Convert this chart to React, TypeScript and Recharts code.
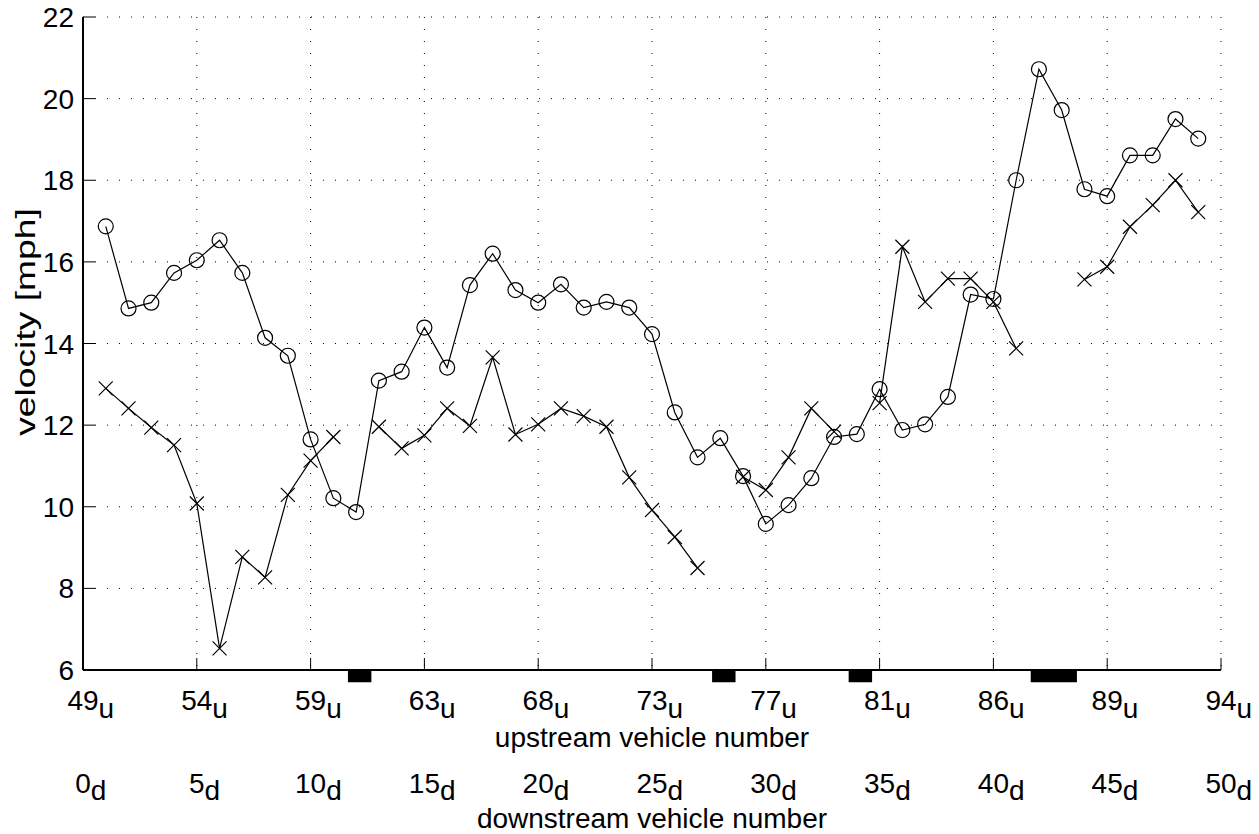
import { CartesianGrid, Line, LineChart, ReferenceArea, XAxis, YAxis } from 'recharts'

// downstream vehicle index (x axis)
const vehicle = [
  1, 2, 3, 4, 5, 6, 7, 8, 9, 10, 11, 12, 13, 14, 15, 16, 17, 18, 19, 20, 21, 22, 23, 24, 25,
  26, 27, 28, 29, 30, 31, 32, 33, 34, 35, 36, 37, 38, 39, 40, 41, 42, 43, 44, 45, 46, 47, 48, 49,
]
// circle markers
const circleSpeed = [
  16.87, 14.86, 15.0, 15.73, 16.04, 16.53, 15.73, 14.14, 13.7, 11.65, 10.21, 9.87, 13.09, 13.31,
  14.39, 13.41, 15.43, 16.2, 15.31, 15.0, 15.45, 14.88, 15.02, 14.88, 14.23, 12.31, 11.21, 11.68,
  10.75, 9.58, 10.04, 10.7, 11.71, 11.78, 12.88, 11.88, 12.02, 12.69, 15.2, 15.09, 18.0, 20.72,
  19.72, 17.78, 17.61, 18.61, 18.61, 19.5, 19.02,
]
// cross markers (null = no vehicle)
const crossSpeed = [
  12.9, 12.41, 11.94, 11.51, 10.08, 6.53, 8.77, 8.27, 10.29, 11.13, 11.71, null, 11.96, 11.43,
  11.75, 12.41, 11.98, 13.66, 11.77, 12.02, 12.41, 12.22, 11.96, 10.72, 9.92, 9.26, 8.5, null,
  10.73, 10.41, 11.21, 12.41, 11.84, null, 12.54, 16.37, 15.02, 15.59, 15.59, 15.02, 13.88, null,
  null, 15.57, 15.88, 16.86, 17.39, 18.0, 17.22,
]
const missingVehicles = [12, 28, 34, 42, 43]

const downTicks = [0, 5, 10, 15, 20, 25, 30, 35, 40, 45, 50]
const upTicks = [49, 54, 59, 63, 68, 73, 77, 81, 86, 89, 94]
const yTicks = [6, 8, 10, 12, 14, 16, 18, 20, 22]

const data = vehicle.map((n, i) => ({ n, circle: circleSpeed[i], cross: crossSpeed[i] }))

const FONT = '"Liberation Sans", Arial, Helvetica, sans-serif'
const FS = 28
const TICK = 12
const W = 1259
const H = 834
const M = { top: 17, right: 38, left: 23, bottom: 134 }
const plotLeft = 83
const plotRight = W - M.right

const textStyle = { fontFamily: FONT, fontSize: FS, fill: '#000' }

function CircleDot(p: any) {
  if (p.cx == null || p.cy == null || p.value == null) return <g key={p.key} />
  return <circle key={p.key} cx={p.cx} cy={p.cy} r={7.5} fill="none" stroke="#000" strokeWidth={1.2} />
}

function CrossDot(p: any) {
  if (p.cx == null || p.cy == null || p.value == null) return <g key={p.key} />
  const s = 7
  const { cx, cy } = p
  return (
    <path
      key={p.key}
      d={`M${cx - s},${cy - s}L${cx + s},${cy + s}M${cx - s},${cy + s}L${cx + s},${cy - s}`}
      stroke="#000"
      strokeWidth={1.2}
      fill="none"
    />
  )
}

function BottomTick(props: any) {
  const { x, y, payload } = props
  const i = downTicks.indexOf(payload.value)
  const up = String(upTicks[i])
  const down = String(payload.value)
  return (
    <g>
      <line x1={x} y1={y} x2={x} y2={y - TICK} stroke="#000" strokeWidth={1} />
      <text x={x} y={y + 40} textAnchor="middle" style={textStyle}>
        {up}
      </text>
      <text x={x + up.length * FS * 0.278} y={y + 48} style={textStyle}>
        u
      </text>
      <text x={x} y={y + 123} textAnchor="middle" style={textStyle}>
        {down}
      </text>
      <text x={x + down.length * FS * 0.278} y={y + 130} style={textStyle}>
        d
      </text>
    </g>
  )
}

function TopTick(props: any) {
  const { x, y } = props
  return <line x1={x} y1={y} x2={x} y2={y + TICK} stroke="#000" strokeWidth={1} />
}

function LeftTick(props: any) {
  const { x, y, payload } = props
  return (
    <g>
      <line x1={x} y1={y} x2={x + TICK} y2={y} stroke="#000" strokeWidth={1} />
      <text x={x - 9} y={y} dy="0.36em" textAnchor="end" style={textStyle}>
        {payload.value}
      </text>
    </g>
  )
}

function RightTick(props: any) {
  const { x, y } = props
  return <line x1={x} y1={y} x2={x - TICK} y2={y} stroke="#000" strokeWidth={1} />
}

function XTitles() {
  const cx = (plotLeft + plotRight) / 2
  return (
    <g>
      <text x={cx} y={747} textAnchor="middle" style={textStyle}>
        upstream vehicle number
      </text>
      <text x={cx} y={828} textAnchor="middle" style={textStyle}>
        downstream vehicle number
      </text>
    </g>
  )
}

// the reference's y title is drawn stretched along its baseline
function YTitle() {
  const cy = 322
  return (
    <text
      x={0}
      y={0}
      textAnchor="middle"
      transform={`translate(35 ${cy}) rotate(-90) scale(1.33 1)`}
      style={textStyle}
    >
      velocity [mph]
    </text>
  )
}

export default function App() {
  return (
    <div style={{ position: 'absolute', left: 0, top: 0, width: W, height: H, background: '#fff' }}>
      <LineChart width={W} height={H} data={data} margin={M}>
        <CartesianGrid stroke="#000" strokeWidth={1} strokeDasharray="1 11" />
        <XAxis
          dataKey="n"
          type="number"
          domain={[0, 50]}
          ticks={downTicks}
          interval={0}
          height={30}
          tickSize={0}
          tickMargin={0}
          tickLine={false}
          axisLine={{ stroke: '#000', strokeWidth: 2 }}
          tick={BottomTick}
          label={() => <XTitles />}
        />
        <XAxis
          xAxisId="top"
          orientation="top"
          dataKey="n"
          type="number"
          domain={[0, 50]}
          ticks={downTicks}
          interval={0}
          height={0}
          tickSize={0}
          tickMargin={0}
          tickLine={false}
          axisLine={{ stroke: '#000', strokeWidth: 2 }}
          tick={TopTick}
        />
        <YAxis
          type="number"
          domain={[6, 22]}
          ticks={yTicks}
          interval={0}
          width={60}
          tickSize={0}
          tickMargin={0}
          tickLine={false}
          axisLine={{ stroke: '#000', strokeWidth: 2 }}
          tick={LeftTick}
          label={() => <YTitle />}
        />
        <YAxis
          yAxisId="right"
          orientation="right"
          type="number"
          domain={[6, 22]}
          ticks={yTicks}
          interval={0}
          width={0}
          tickSize={0}
          tickMargin={0}
          tickLine={false}
          axisLine={{ stroke: '#000', strokeWidth: 2 }}
          tick={RightTick}
        />
        {missingVehicles.map((v) => (
          <ReferenceArea
            key={v}
            x1={v - 0.36}
            x2={v + 0.67}
            y1={5.7}
            y2={6}
            ifOverflow="visible"
            fill="#000"
            fillOpacity={1}
            stroke="none"
          />
        ))}
        <Line
          dataKey="circle"
          stroke="#000"
          strokeWidth={1.2}
          dot={CircleDot}
          activeDot={false}
          isAnimationActive={false}
        />
        <Line
          dataKey="cross"
          stroke="#000"
          strokeWidth={1.2}
          dot={CrossDot}
          activeDot={false}
          isAnimationActive={false}
        />
      </LineChart>
    </div>
  )
}
